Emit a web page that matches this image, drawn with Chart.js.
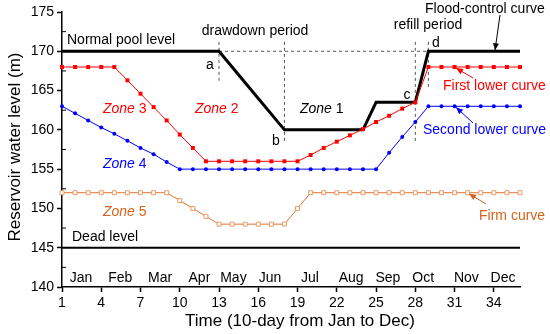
<!DOCTYPE html>
<html>
<head>
<meta charset="utf-8">
<script src="https://cdn.jsdelivr.net/npm/chart.js@4"></script>
<style>
  html, body { margin: 0; padding: 0; background: #fff; }
  #wrap { width: 550px; height: 334px; }
</style>
</head>
<body>
<div id="wrap"><canvas id="levelChart" width="550" height="334"></canvas></div>
<script>
// 10-day periods, Jan to Dec
const periods = [1,2,3,4,5,6,7,8,9,10,11,12,13,14,15,16,17,18,19,20,21,22,23,24,25,26,27,28,29,30,31,32,33,34,35,36];
const xTickValues = [1,4,7,10,13,16,19,22,25,28,31,34];

// water levels (m)
const floodControl = [170,170,170,170,170,170,170,170,170,170,170,170,170,168,166,164,162,160,160,160,160,160,160,160,163.5,163.5,163.5,163.5,170,170,170,170,170,170,170,170];
const firstLower   = [168,168,168,168,168,166.3,164.6,162.9,161.2,159.4,157.7,156,156,156,156,156,156,156,156,156.8,157.7,158.5,159.3,160.1,161,161.8,162.7,163.5,168,168,168,168,168,168,168,168];
const secondLower  = [163,162.1,161.2,160.3,159.5,158.6,157.7,156.9,155.9,155,155,155,155,155,155,155,155,155,155,155,155,155,155,155,155,157.1,159.1,161,163,163,163,163,163,163,163,163];
const firmCurve    = [152,152,152,152,152,152,152,152,152,151,150,149,148,148,148,148,148,148,150,152,152,152,152,152,152,152,152,152,152,152,152,152,152,152,152,152];
const deadLevel    = [145,145,145,145,145,145,145,145,145,145,145,145,145,145,145,145,145,145,145,145,145,145,145,145,145,145,145,145,145,145,145,145,145,145,145,145];

// months and where their names sit (period units)
const monthNames = ["Jan","Feb","Mar","Apr","May","Jun","Jul","Aug","Sep","Oct","Nov","Dec"];
const monthPos   = [2.45,5.45,8.5,11.5,14.1,16.9,19.95,23.1,25.9,28.6,31.9,34.7];

// key points a, b, c, d of the flood-control curve and their period guides
const guideX    = [13, 18, 28, 29];
const guideTop  = [171.2, 171.2, 171.2, 171.2];
const guideLow  = [165.9, 158.5, 158.5, 165.4];

const RED = "#ff0000", BLUE = "#0000ff", ORANGE = "#e07430", ORANGE_TXT = "#d8621c";

const annotations = {
  id: "annotations",
  beforeDatasetsDraw(chart) {
    const { ctx } = chart;
    const x = chart.scales.x, y = chart.scales.y;
    ctx.save();
    ctx.strokeStyle = "#555";
    ctx.lineWidth = 1;
    ctx.setLineDash([3, 3]);
    // normal pool level between a and d
    ctx.beginPath();
    ctx.moveTo(x.getPixelForValue(guideX[0]), y.getPixelForValue(170));
    ctx.lineTo(x.getPixelForValue(guideX[3]), y.getPixelForValue(170));
    ctx.stroke();
    guideX.forEach((gx, i) => {
      ctx.beginPath();
      ctx.moveTo(x.getPixelForValue(gx), y.getPixelForValue(guideTop[i]));
      ctx.lineTo(x.getPixelForValue(gx), y.getPixelForValue(guideLow[i]));
      ctx.stroke();
    });
    ctx.restore();
  },
  afterDraw(chart) {
    const { ctx, chartArea } = chart;
    const x = chart.scales.x, y = chart.scales.y;
    const px = v => x.getPixelForValue(v), py = v => y.getPixelForValue(v);
    ctx.save();
    const font = "14px 'Liberation Sans', Arial, sans-serif";
    const ifont = "italic 14px 'Liberation Sans', Arial, sans-serif";

    function text(str, xp, yp, color, f, align) {
      ctx.font = f || font;
      ctx.fillStyle = color || "#000";
      ctx.textAlign = align || "left";
      ctx.textBaseline = "middle";
      ctx.fillText(str, xp, yp);
    }
    function arrow(x1, y1, x2, y2, color) {
      ctx.strokeStyle = color;
      ctx.fillStyle = color;
      ctx.lineWidth = 1;
      ctx.beginPath();
      ctx.moveTo(x1, y1);
      ctx.lineTo(x2, y2);
      ctx.stroke();
      const ang = Math.atan2(y2 - y1, x2 - x1);
      const len = 7, w = 3;
      ctx.beginPath();
      ctx.moveTo(x2, y2);
      ctx.lineTo(x2 - len * Math.cos(ang) + w * Math.sin(ang), y2 - len * Math.sin(ang) - w * Math.cos(ang));
      ctx.lineTo(x2 - len * Math.cos(ang) - w * Math.sin(ang), y2 - len * Math.sin(ang) + w * Math.cos(ang));
      ctx.closePath();
      ctx.fill();
    }

    // minor y ticks, pointing inward
    ctx.strokeStyle = "#000";
    ctx.lineWidth = 1;
    for (let v = 142.5; v < 175; v += 5) {
      ctx.beginPath();
      ctx.moveTo(chartArea.left, py(v));
      ctx.lineTo(chartArea.left + 4, py(v));
      ctx.stroke();
    }

    // month names inside the plot
    monthNames.forEach((m, i) => text(m, px(monthPos[i]), py(141.1), "#000", font, "center"));

    // reference levels and periods
    text("Normal pool level", 67, py(171.4));
    text("Dead level", 72, py(146.4));
    text("drawdown period", 255, 31, "#000", font, "center");
    text("refill period", 428, 25, "#000", font, "center");
    text("a", 210, py(168.2), "#000", font, "center");
    text("b", 276, py(158.6), "#000", font, "center");
    text("c", 407, py(164.4), "#000", font, "center");
    text("d", 436, py(171.1), "#000", font, "center");

    // zones
    function zone(n, xp, yp, color) {
      ctx.font = ifont;
      const w = ctx.measureText("Zone ").width;
      text("Zone ", xp, yp, color, ifont);
      text(String(n), xp + w, yp, color, font);
    }
    zone(1, 300, py(162.6), "#000");
    zone(2, 195, py(162.6), RED);
    zone(3, 103, py(162.6), RED);
    zone(4, 103, py(155.6), BLUE);
    zone(5, 103, py(149.5), ORANGE_TXT);

    // curve names with arrows
    text("Flood-control curve", 425, 9, "#000");
    arrow(500, 15, 495, py(170) - 1, "#000");
    text("First lower curve", 443, 86, RED);
    arrow(473, 78, 456, py(168) + 1, RED);
    text("Second lower curve", 423, 130, BLUE);
    arrow(473, 123, 456, py(163) + 1, BLUE);
    text("Firm curve", 479, 216, ORANGE_TXT);
    arrow(486, 204, 469, py(152) + 1, ORANGE_TXT);

    // axis titles
    ctx.font = "17px 'Liberation Sans', Arial, sans-serif";
    ctx.fillStyle = "#000";
    ctx.textAlign = "center";
    ctx.textBaseline = "middle";
    ctx.fillText("Time (10-day from Jan to Dec)", 300, 321);
    ctx.translate(15, 147);
    ctx.rotate(-Math.PI / 2);
    ctx.fillText("Reservoir water level (m)", 0, 0);
    ctx.restore();
  }
};

new Chart(document.getElementById("levelChart"), {
  type: "line",
  data: {
    labels: periods,
    datasets: [
      { data: deadLevel, borderColor: "#000", borderWidth: 2, pointRadius: 0 },
      { data: firmCurve, borderColor: ORANGE, borderWidth: 1, pointStyle: "rect",
        pointRadius: 2.8, pointBackgroundColor: "#fff", pointBorderColor: "#eb9a62", pointBorderWidth: 1 },
      { data: secondLower, borderColor: BLUE, borderWidth: 1, pointStyle: "circle",
        pointRadius: 2, pointBackgroundColor: BLUE, pointBorderColor: BLUE, pointBorderWidth: 0 },
      { data: firstLower, borderColor: RED, borderWidth: 1, pointStyle: "rect",
        pointRadius: 2.8, pointBackgroundColor: RED, pointBorderColor: RED, pointBorderWidth: 0 },
      { data: floodControl, borderColor: "#000", borderWidth: 3, pointRadius: 0 }
    ]
  },
  options: {
    responsive: false,
    animation: false,
    clip: false,
    layout: { padding: { left: 0, right: 30, top: 12, bottom: 0 } },
    plugins: { legend: { display: false }, tooltip: { enabled: false } },
    scales: {
      x: {
        type: "linear",
        min: 1, max: 36,
        afterBuildTicks: s => { s.ticks = xTickValues.map(v => ({ value: v })); },
        afterFit: s => { s.height = 47; },
        grid: { drawOnChartArea: false, tickLength: 5, color: "#000", tickWidth: 1.5 },
        border: { color: "#000", width: 1.5 },
        ticks: { color: "#000", padding: 3, maxRotation: 0, autoSkip: false,
                 font: { family: "'Liberation Sans', Arial, sans-serif", size: 14 } }
      },
      y: {
        min: 140, max: 175,
        afterFit: s => { s.width = 62; },
        grid: { drawOnChartArea: false, tickLength: 5, color: "#000", tickWidth: 1.5 },
        border: { color: "#000", width: 1.5 },
        ticks: { stepSize: 5, color: "#000", padding: 3,
                 font: { family: "'Liberation Sans', Arial, sans-serif", size: 14 } }
      }
    }
  },
  plugins: [annotations]
});
</script>
</body>
</html>
